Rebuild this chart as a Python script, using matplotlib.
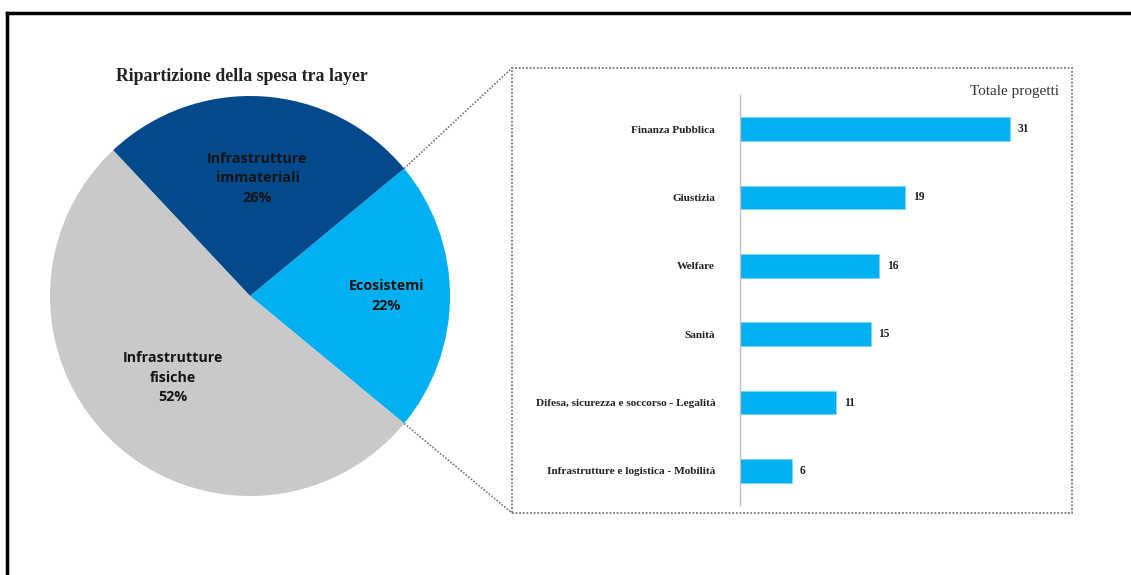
import numpy as np
import matplotlib
matplotlib.use("Agg")
import matplotlib.pyplot as plt
from matplotlib.lines import Line2D
from matplotlib.patches import Rectangle

# Dati torta
layer_names = ["Ecosistemi", "Infrastrutture\nimmateriali", "Infrastrutture\nfisiche"]
layer_pct = [22, 26, 52]
layer_colors = ["#00B0F0", "#034A8C", "#C9C9C9"]

# Dati barre
settori = ["Finanza Pubblica", "Giustizia", "Welfare", "Sanità",
           "Difesa, sicurezza e soccorso - Legalità",
           "Infrastrutture e logistica - Mobilità"]
progetti = [31, 19, 16, 15, 11, 6]

W, H = 1131, 575
fig = plt.figure(figsize=(W / 100, H / 100), dpi=100)

def fx(px):
    return px / W

def fy(py):
    return 1 - py / H

# cornice esterna
fig.add_artist(Line2D([fx(7), 1.0], [fy(13), fy(13)], color="black", lw=2.5,
                      transform=fig.transFigure))
fig.add_artist(Line2D([fx(7), fx(7)], [fy(13), 0.0], color="black", lw=2.5,
                      transform=fig.transFigure))

# --- torta ---
ax_pie = fig.add_axes([fx(50), fy(496), 400 / W, 400 / H])
start = -layer_pct[0] / 100 * 360 / 2
wedges, texts = ax_pie.pie(layer_pct, colors=layer_colors, startangle=start,
                           counterclock=True, radius=1,
                           labels=[f"{n}\n{p}%" for n, p in zip(layer_names, layer_pct)],
                           labeldistance=0.6,
                           textprops=dict(fontsize=10.3, fontweight="bold",
                                          family="Open Sans", color="#141414",
                                          ha="center", va="center",
                                          linespacing=1.5))
label_r = [0.68, 0.59, 0.56]
for w, t, r in zip(wedges, texts, label_r):
    mid = np.deg2rad((w.theta1 + w.theta2) / 2)
    t.set_position((r * np.cos(mid), r * np.sin(mid)))
    t.set_ha("center")
ax_pie.set_xlim(-1, 1)
ax_pie.set_ylim(-1, 1)
ax_pie.set_aspect("equal")
ax_pie.set_title("Ripartizione della spesa tra layer", family="Liberation Serif",
                 fontweight="bold", fontsize=12.8, color="#222222", pad=11, x=0.48)

# linee di collegamento dal bordo della fetta Ecosistemi al riquadro
e = wedges[0]
for ang, corner in [(e.theta2, (512, 68)), (e.theta1, (512, 513))]:
    a = np.deg2rad(ang)
    p = ax_pie.transData.transform((np.cos(a), np.sin(a)))
    p = fig.transFigure.inverted().transform(p)
    fig.add_artist(Line2D([p[0], fx(corner[0])], [p[1], fy(corner[1])],
                          color="#777777", lw=1.2, ls=(0, (1, 1)),
                          transform=fig.transFigure))

# riquadro tratteggiato
fig.add_artist(Rectangle((fx(512), fy(513)), fx(1072) - fx(512), fy(68) - fy(513),
                         fill=False, edgecolor="#777777", lw=1.3, ls=(0, (1, 1)),
                         transform=fig.transFigure))

# --- barre ---
ax_bar = fig.add_axes([fx(740), fy(505), (36 * 8.71) / W, (505 - 95) / H])
y = np.arange(len(settori))
ax_bar.barh(y, progetti, height=0.35, color="#00B0F0", edgecolor="#7fd6f7", lw=0.6)
ax_bar.set_ylim(len(settori) - 0.5, -0.5)
ax_bar.set_xlim(0, 36)
ax_bar.set_yticks(y)
ax_bar.set_yticklabels(settori, family="Liberation Serif", fontweight="bold",
                       fontsize=8.1, color="#222222")
ax_bar.tick_params(axis="y", length=0, pad=18)
ax_bar.set_xticks([])
for s in ["top", "right", "bottom"]:
    ax_bar.spines[s].set_visible(False)
ax_bar.spines["left"].set_color("#B8C0CC")
ax_bar.spines["left"].set_linewidth(1)
for yi, v in zip(y, progetti):
    ax_bar.text(v + 0.9, yi, str(v), va="center", ha="left",
                family="Liberation Serif", fontweight="bold", fontsize=8.3,
                color="#222222")
fig.text(fx(1059), fy(91), "Totale progetti", ha="right", va="center",
         family="Liberation Serif", fontsize=11, color="#333333")

fig.savefig("out.png", dpi=100)
